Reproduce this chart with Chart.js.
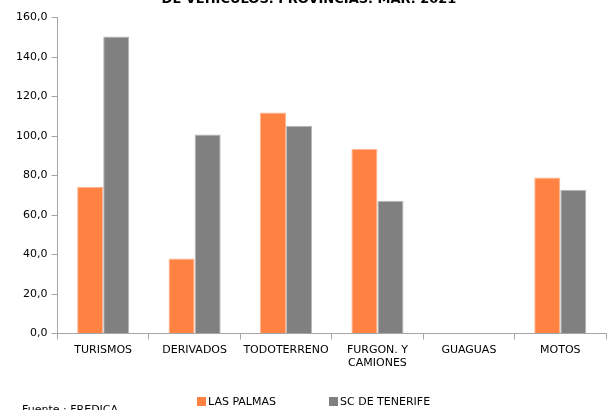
<!DOCTYPE html>
<html>
<head>
<meta charset="utf-8">
<script src="https://cdn.jsdelivr.net/npm/chart.js@4.4.1/dist/chart.umd.min.js"></script>
<style>
  html, body { margin: 0; padding: 0; background: #fff; }
  body { width: 607px; height: 410px; position: relative; overflow: hidden; font-family: 'DejaVu Sans', sans-serif; }
  #wrap { position: absolute; left: 0; top: -8px; width: 607px; height: 418px; }
  .legend { position: absolute; top: 395px; font-size: 11px; color: #000; white-space: nowrap; }
  .legend span.box { display: inline-block; width: 9px; height: 9px; margin-right: 2px; vertical-align: -1px; }
  #source { position: absolute; left: 22px; top: 403px; font-size: 11px; color: #000; }
</style>
</head>
<body>
<div id="wrap"><canvas id="chart"></canvas></div>
<div id="legend"></div>
<div id="source">Fuente : FREDICA</div>
<script>
// Vehicle registrations by province, Mar. 2021
const TITLE = 'DE VEHICULOS. PROVINCIAS. MAR. 2021';
const categories = ['TURISMOS', 'DERIVADOS', 'TODOTERRENO', ['FURGON. Y', 'CAMIONES'], 'GUAGUAS', 'MOTOS'];
const seriesNames = ['LAS PALMAS', 'SC DE TENERIFE'];
const lasPalmas   = [74.4, 38.0, 111.9, 93.5, 0, 79.1];
const scTenerife  = [150.4, 100.8, 105.3, 67.3, 0, 72.8];
const yTicks = { min: 0, max: 160, step: 20 };

const COLORS  = ['#FF8243', '#808080'];
const BORDERS = ['#FFB58F', '#B8B8B8'];
const AXIS = '#A6A6A6';
const FONT = "'DejaVu Sans', sans-serif";

new Chart(document.getElementById('chart'), {
  type: 'bar',
  data: {
    labels: categories,
    datasets: [
      { label: seriesNames[0], data: lasPalmas,  backgroundColor: COLORS[0], borderColor: BORDERS[0], borderWidth: 1, borderSkipped: 'bottom' },
      { label: seriesNames[1], data: scTenerife, backgroundColor: COLORS[1], borderColor: BORDERS[1], borderWidth: 1, borderSkipped: 'bottom' }
    ]
  },
  options: {
    responsive: true,
    maintainAspectRatio: false,
    animation: false,
    datasets: { bar: { categoryPercentage: 0.57, barPercentage: 1 } },
    layout: { padding: { left: 12, right: 1, top: 0, bottom: 36 } },
    plugins: {
      legend: { display: false },
      tooltip: { enabled: false },
      title: {
        display: true,
        text: TITLE,
        color: '#000',
        font: { family: FONT, size: 13, weight: 'bold' },
        padding: { top: 0, bottom: 10 }
      }
    },
    scales: {
      x: {
        grid: { display: true, drawOnChartArea: false, drawTicks: true, tickLength: 6, color: AXIS, offset: true },
        border: { display: true, color: AXIS, width: 1 },
        ticks: { color: '#000', font: { family: FONT, size: 11 }, padding: 4, maxRotation: 0, autoSkip: false }
      },
      y: {
        min: yTicks.min,
        max: yTicks.max,
        grid: { display: true, drawOnChartArea: false, drawTicks: true, tickLength: 6, color: AXIS },
        border: { display: true, color: AXIS, width: 1 },
        ticks: {
          stepSize: yTicks.step,
          color: '#000',
          padding: 4,
          font: { family: FONT, size: 11 },
          callback: v => v.toFixed(1).replace('.', ',')
        }
      }
    }
  }
});

// legend drawn as HTML so spacing can follow the original
const legendPos = [197, 329];
document.getElementById('legend').innerHTML = seriesNames.map((n, i) =>
  `<div class="legend" style="left:${legendPos[i]}px"><span class="box" style="background:${COLORS[i]}"></span>${n}</div>`
).join('');
</script>
</body>
</html>
